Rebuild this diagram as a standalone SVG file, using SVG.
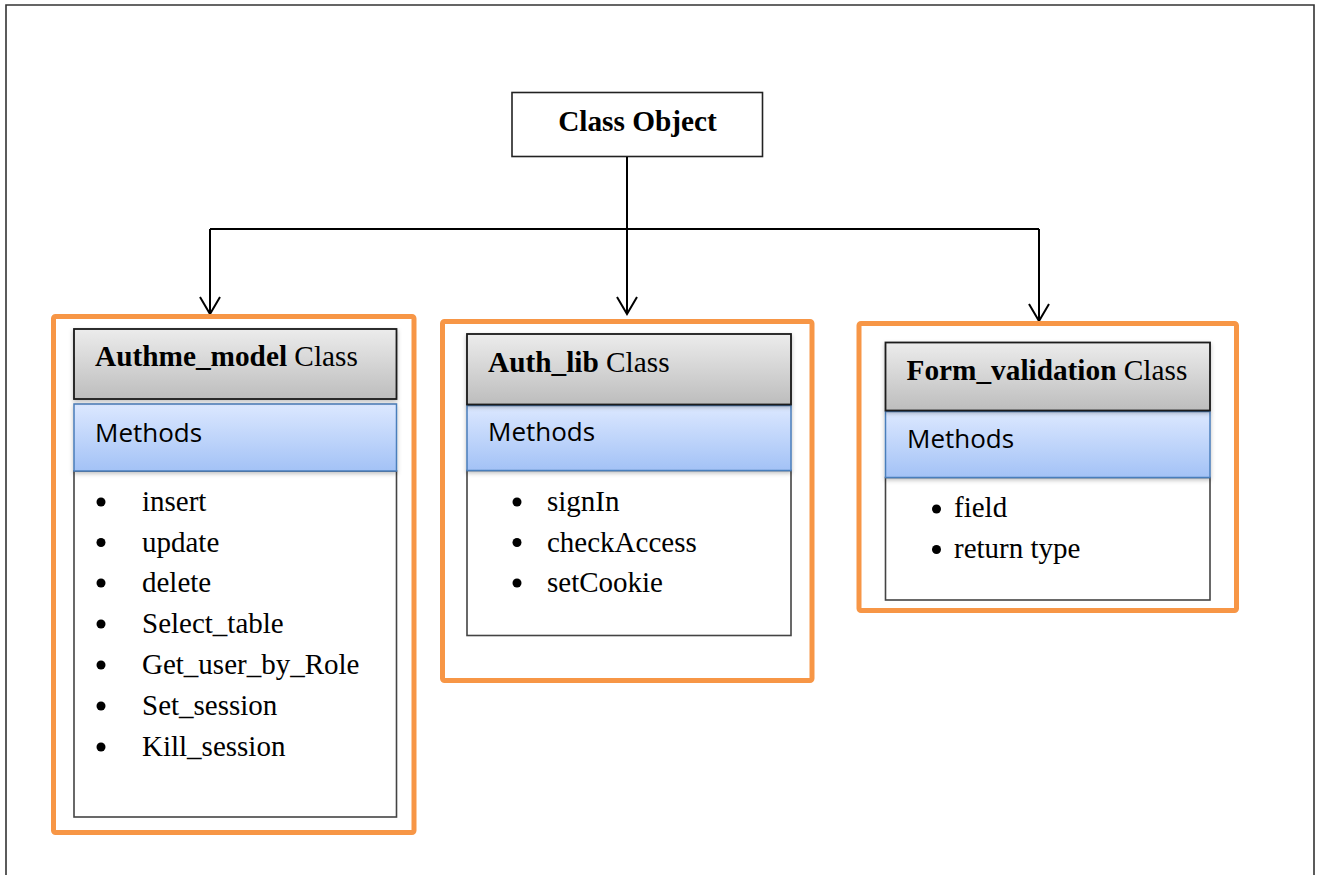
<svg xmlns="http://www.w3.org/2000/svg" width="1321" height="875" viewBox="0 0 1321 875">
<style>
.frame{fill:none;stroke:#333;stroke-width:1.6}
.orange{fill:#fff;stroke:#F79646;stroke-width:5}
.hdr{fill:url(#gGray);stroke:#1a1a1a;stroke-width:1.8}
.meth{fill:url(#gBlue);stroke:#4A7EBB;stroke-width:1.5}
.body{fill:#fff;stroke:#444;stroke-width:1.6}
.tt{font-family:"Liberation Serif","Times New Roman",serif;font-size:29.3px;fill:#000}
.b{font-weight:bold}
.ms{font-family:"Open Sans","Liberation Sans",sans-serif;font-size:26px;fill:#000}
.li{font-family:"Liberation Serif","Times New Roman",serif;font-size:29px;fill:#000}
.conn{fill:none;stroke:#000;stroke-width:2}
.dot{fill:#000}
</style>
<defs>
<linearGradient id="gGray" x1="0" y1="0" x2="0" y2="1">
<stop offset="0" stop-color="#ECECEC"/><stop offset="1" stop-color="#BDBDBD"/>
</linearGradient>
<linearGradient id="gBlue" x1="0" y1="0" x2="0" y2="1">
<stop offset="0" stop-color="#DCE8FF"/><stop offset="1" stop-color="#A3C2F6"/>
</linearGradient>
<filter id="sh" x="-10%" y="-10%" width="120%" height="130%">
<feDropShadow dx="0" dy="2" stdDeviation="2" flood-color="#000" flood-opacity="0.25"/>
</filter>
<marker id="arr" markerWidth="20" markerHeight="24" refX="18" refY="11" orient="auto" markerUnits="userSpaceOnUse" viewBox="0 0 20 22">
<path d="M1,1 L18,11 L1,21" fill="none" stroke="#000" stroke-width="2"/>
</marker>
</defs>
<path class="frame" d="M6,875 V5 H1314 V875"/>

<g id="class-object">
<rect x="512" y="92.5" width="250.5" height="64" fill="#fff" stroke="#222" stroke-width="1.6"/>
<text class="tt b" x="637.5" y="130.5" text-anchor="middle">Class Object</text>
</g>

<g id="connectors">
<path class="conn" d="M627,157 V229"/>
<path class="conn" d="M210,229 H1039"/>
<path class="conn" d="M210,229 V314" marker-end="url(#arr)"/>
<path class="conn" d="M627,229 V314" marker-end="url(#arr)"/>
<path class="conn" d="M1039,229 V321" marker-end="url(#arr)"/>
</g>

<g id="authme-model">
<rect class="orange" x="53.5" y="316.5" width="360.5" height="516" rx="2"/>
<rect class="body" x="74" y="471" width="322.5" height="346"/>
<rect class="meth" x="74" y="404" width="322.5" height="67" filter="url(#sh)"/>
<rect class="hdr" x="74" y="329" width="322.5" height="70" filter="url(#sh)"/>
<text class="tt" x="95" y="365.5"><tspan class="b">Authme_model</tspan> Class</text>
<text class="ms" x="95" y="441.5">Methods</text>
<g class="dot"><circle cx="101" cy="502" r="4.5"/><circle cx="101" cy="542.5" r="4.5"/><circle cx="101" cy="583" r="4.5"/><circle cx="101" cy="624" r="4.5"/><circle cx="101" cy="665" r="4.5"/><circle cx="101" cy="706" r="4.5"/><circle cx="101" cy="747" r="4.5"/></g>
<text class="li" x="142" y="511">insert</text>
<text class="li" x="142" y="551.5">update</text>
<text class="li" x="142" y="592">delete</text>
<text class="li" x="142" y="633">Select_table</text>
<text class="li" x="142" y="674">Get_user_by_Role</text>
<text class="li" x="142" y="715">Set_session</text>
<text class="li" x="142" y="756">Kill_session</text>
</g>

<g id="auth-lib">
<rect class="orange" x="442.5" y="321.5" width="369.5" height="359" rx="2"/>
<rect class="body" x="467" y="470.5" width="324" height="165"/>
<rect class="meth" x="467" y="405.5" width="324" height="65" filter="url(#sh)"/>
<rect class="hdr" x="467" y="334" width="324" height="70.5" filter="url(#sh)"/>
<text class="tt" x="488" y="371.5"><tspan class="b">Auth_lib</tspan> Class</text>
<text class="ms" x="488" y="441">Methods</text>
<g class="dot"><circle cx="517" cy="502" r="4.5"/><circle cx="517" cy="542.5" r="4.5"/><circle cx="517" cy="583" r="4.5"/></g>
<text class="li" x="547" y="511">signIn</text>
<text class="li" x="547" y="551.5">checkAccess</text>
<text class="li" x="547" y="592">setCookie</text>
</g>

<g id="form-validation">
<rect class="orange" x="859" y="323.5" width="377.5" height="287" rx="2"/>
<rect class="body" x="885.5" y="477.5" width="324.5" height="122.5"/>
<rect class="meth" x="885.5" y="411.5" width="324.5" height="66" filter="url(#sh)"/>
<rect class="hdr" x="885.5" y="342.5" width="324.5" height="68" filter="url(#sh)"/>
<text class="tt" x="906.5" y="380"><tspan class="b">Form_validation</tspan> Class</text>
<text class="ms" x="907" y="448">Methods</text>
<g class="dot"><circle cx="936.5" cy="509" r="4.5"/><circle cx="936.5" cy="549.5" r="4.5"/></g>
<text class="li" x="954" y="517">field</text>
<text class="li" x="954" y="557.5">return type</text>
</g>
</svg>
